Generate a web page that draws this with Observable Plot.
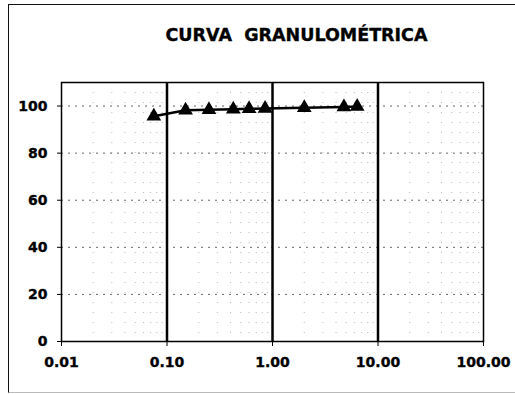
<!DOCTYPE html>
<html>
<head>
<meta charset="utf-8">
<script src="https://cdn.jsdelivr.net/npm/d3@7"></script>
<script src="https://cdn.jsdelivr.net/npm/@observablehq/plot@0.6"></script>
<style>
  html, body { margin: 0; padding: 0; background: #fff; }
  #wrap { position: relative; width: 515px; height: 394px; overflow: hidden; }
  #border { position: absolute; left: 8px; top: 4px; width: 520px; height: 387px;
            border-top: 1.5px solid #111; border-left: 1.5px solid #111; border-bottom: 1px solid #bbb; }
  #chart { position: absolute; left: 0; top: 0; }
  #chart text { stroke: #000; stroke-width: 0.35px; }
</style>
</head>
<body>
<div id="wrap"><div id="border"></div><div id="chart"></div></div>
<script>
const title = "CURVA  GRANULOMÉTRICA";
const sizes = [0.075, 0.15, 0.25, 0.425, 0.6, 0.85, 2.0, 4.75, 6.35];
const passing = [95.7, 98.2, 98.4, 98.6, 98.8, 99.0, 99.3, 99.6, 99.8];
const xTicks = [0.01, 0.1, 1, 10, 100];
const yTicks = [0, 20, 40, 60, 80, 100];
const majorLines = [0.1, 1, 10];

const data = sizes.map((s, i) => ({size: s, pass: passing[i]}));
const minor = [];
for (const d of [0.01, 0.1, 1, 10]) for (let k = 2; k <= 9; k++) minor.push(d * k);

const font = "DejaVu Sans, sans-serif";
const chart = Plot.plot({
  width: 515,
  height: 394,
  marginLeft: 61,
  marginRight: 32,
  marginTop: 82,
  marginBottom: 53,
  style: {fontFamily: font, fontWeight: "bold", fontSize: "14px", color: "#000", background: "transparent"},
  x: {type: "log", domain: [0.01, 100], label: null},
  y: {domain: [0, 110], label: null},
  marks: [
    Plot.ruleX(minor, {stroke: "#888", strokeWidth: 1, strokeDasharray: "1,9", strokeOpacity: 0.6}),
    Plot.ruleY(yTicks.filter(v => v > 0), {stroke: "#666", strokeWidth: 1, strokeDasharray: "2,5"}),
    Plot.ruleX(majorLines, {stroke: "#000", strokeWidth: 2.5}),
    Plot.frame({stroke: "#000", strokeWidth: 1.5}),
    Plot.axisX({ticks: xTicks, tickFormat: d3.format(".2f"), tickSize: 5, tickPadding: 11, fontWeight: "bold", fontSize: 14}),
    Plot.axisY({ticks: yTicks, tickSize: 4, tickPadding: 10, fontWeight: "bold", fontSize: 14}),
    Plot.line(data, {x: "size", y: "pass", stroke: "#000", strokeWidth: 2.5}),
    Plot.dot(data, {x: "size", y: "pass", symbol: "triangle", r: 4.5, fill: "#000", stroke: "#000"}),
    Plot.text([title], {frameAnchor: "top", dx: 24, dy: -47, lineAnchor: "middle", fontSize: 17.5, fontWeight: "bold", fill: "#000"})
  ]
});
document.getElementById("chart").appendChild(chart);
</script>
</body>
</html>
